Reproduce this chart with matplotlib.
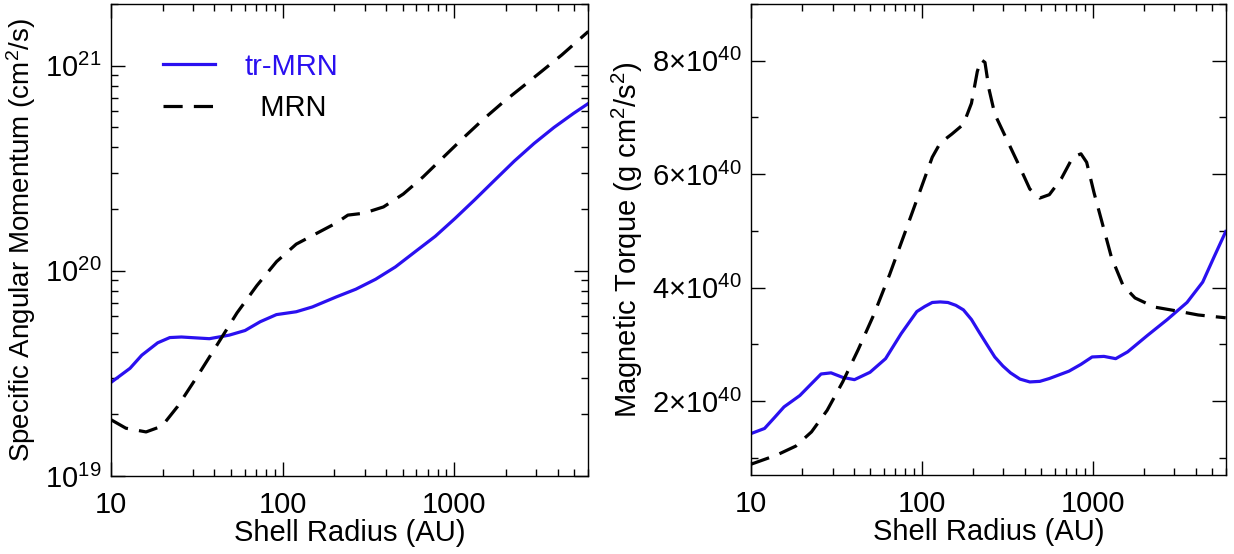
import numpy as np
import matplotlib
matplotlib.use("Agg")
import matplotlib.pyplot as plt
from matplotlib.ticker import LogLocator, FuncFormatter, MultipleLocator, NullFormatter

plt.rcParams['font.family'] = ['Liberation Sans', 'DejaVu Sans']
plt.rcParams['mathtext.default'] = 'regular'

# left panel: specific angular momentum (cm^2/s) vs shell radius (AU)
r_j_tr = [10, 12.9, 15.1, 18.7, 22.0, 25.7, 37.4, 48.8, 60.4, 74.0, 92, 120, 149, 205,
          267, 348, 454, 592, 776, 1010, 1315, 1715, 2240, 2920, 3810, 4960, 6050]
j_tr = [2.86e19, 3.35e19, 3.88e19, 4.46e19, 4.73e19, 4.76e19, 4.67e19, 4.86e19, 5.12e19,
        5.65e19, 6.12e19, 6.32e19, 6.67e19, 7.46e19, 8.14e19, 9.1e19, 1.045e20, 1.24e20,
        1.475e20, 1.80e20, 2.22e20, 2.76e20, 3.43e20, 4.18e20, 5.0e20, 5.86e20, 6.55e20]

r_j_mrn = [10, 12.2, 16.0, 19.8, 24.4, 31.8, 41.5, 54.2, 70.7, 92.2, 120, 157, 205, 240,
           297, 387, 505, 658, 861, 1124, 1466, 1910, 2490, 3250, 4240, 6050]
j_mrn = [1.88e19, 1.71e19, 1.64e19, 1.75e19, 2.18e19, 3.06e19, 4.36e19, 6.24e19, 8.47e19,
         1.11e20, 1.35e20, 1.52e20, 1.71e20, 1.87e20, 1.91e20, 2.05e20, 2.37e20, 2.87e20,
         3.57e20, 4.43e20, 5.45e20, 6.6e20, 7.88e20, 9.43e20, 1.13e21, 1.47e21]

# right panel: magnetic torque (units of 1e40 g cm^2/s^2)
r_t_tr = [10, 12.0, 13.7, 15.6, 19.3, 22.6, 25.7, 29.4, 34.4, 40.3, 49.7, 61.3, 75.6, 93.4,
          104, 115, 128, 142, 158, 175, 195, 216, 240, 267, 298, 330, 375, 428, 490, 557,
          726, 853, 991, 1163, 1362, 1600, 2090, 2730, 3560, 4400, 5140, 6000]
t_tr = [1.43, 1.52, 1.71, 1.90, 2.10, 2.31, 2.48, 2.50, 2.42, 2.38, 2.51, 2.75, 3.19, 3.58,
        3.67, 3.74, 3.75, 3.74, 3.69, 3.61, 3.44, 3.22, 3.00, 2.78, 2.62, 2.50, 2.39, 2.34,
        2.35, 2.40, 2.53, 2.65, 2.78, 2.79, 2.75, 2.87, 3.16, 3.44, 3.74, 4.10, 4.55, 4.99]

r_t_mrn = [10, 14.1, 18.3, 22.6, 27.9, 34.4, 42.4, 52.4, 64.7, 79.8, 98.5, 115, 128, 150,
           175, 195, 211, 222, 234, 247, 267, 313, 367, 428, 490, 557, 654, 764, 853, 921,
           1018, 1129, 1285, 1504, 1767, 2290, 2980, 4140, 6000]
t_mrn = [0.89, 1.05, 1.21, 1.46, 1.84, 2.34, 2.91, 3.53, 4.23, 4.98, 5.74, 6.30, 6.55, 6.71,
         6.88, 7.25, 7.81, 8.02, 7.97, 7.50, 7.06, 6.62, 6.18, 5.74, 5.58, 5.64, 5.92, 6.30,
         6.36, 6.21, 5.67, 5.17, 4.54, 4.04, 3.82, 3.66, 3.60, 3.52, 3.47]

blue = '#2a10f0'
dash = (0, (6, 3.5))

fig = plt.figure(figsize=(12.34, 5.54), dpi=100)
ax1 = fig.add_axes([0.0900, 0.1408, 0.3863, 0.8520])
ax2 = fig.add_axes([0.6086, 0.1426, 0.3847, 0.8502])

ax1.plot(r_j_tr, j_tr, color=blue, lw=2.3, label='tr-MRN')
ax1.plot(r_j_mrn, j_mrn, color='black', lw=2.3, ls=dash, label='  MRN')
ax1.set_xscale('log')
ax1.set_yscale('log')
ax1.set_xlim(10, 6000)
ax1.set_ylim(1e19, 2e21)
ax1.yaxis.set_major_locator(LogLocator(base=10))
ax1.yaxis.set_minor_locator(LogLocator(base=10, subs=np.arange(2, 10)))
ax1.yaxis.set_minor_formatter(NullFormatter())
ax1.set_ylabel('Specific Angular Momentum (cm$^2$/s)', fontsize=20)
ax1.yaxis.set_label_coords(-0.153, 0.5)

leg = ax1.legend(loc='upper left', bbox_to_anchor=(0.108, 0.897), frameon=False,
                 fontsize=21, handlelength=1.8, handletextpad=1.0, labelspacing=0.45,
                 borderpad=0, borderaxespad=0, labelcolor='linecolor')

ax2.plot(np.array(r_t_tr), np.array(t_tr) * 1e40, color=blue, lw=2.3)
ax2.plot(np.array(r_t_mrn), np.array(t_mrn) * 1e40, color='black', lw=2.3, ls=dash)
ax2.set_xscale('log')
ax2.set_xlim(10, 6000)
ax2.set_ylim(0.7e40, 9e40)
ax2.yaxis.set_major_locator(MultipleLocator(2e40))
ax2.yaxis.set_minor_locator(MultipleLocator(1e40))
ax2.yaxis.set_major_formatter(FuncFormatter(lambda v, p: r'%d$\times$10$^{40}$' % round(v / 1e40)))
ax2.set_ylabel('Magnetic Torque (g cm$^2$/s$^2$)', fontsize=21)
ax2.yaxis.set_label_coords(-0.223, 0.5)

for ax in (ax1, ax2):
    ax.xaxis.set_major_formatter(FuncFormatter(lambda v, p: '%d' % v))
    ax.xaxis.set_minor_formatter(NullFormatter())
    ax.set_xlabel('Shell Radius (AU)', fontsize=21)
    ax.xaxis.set_label_coords(0.5, -0.092)
    ax.tick_params(which='both', direction='in', top=True, right=True, labelsize=21)
    ax.tick_params(which='major', length=10, width=1.0)
    ax.tick_params(which='minor', length=5, width=1.0)
    ax.tick_params(axis='x', pad=11)
    ax.tick_params(axis='y', pad=7)
    for s in ax.spines.values():
        s.set_linewidth(1.0)

fig.savefig('out.png', dpi=100)
